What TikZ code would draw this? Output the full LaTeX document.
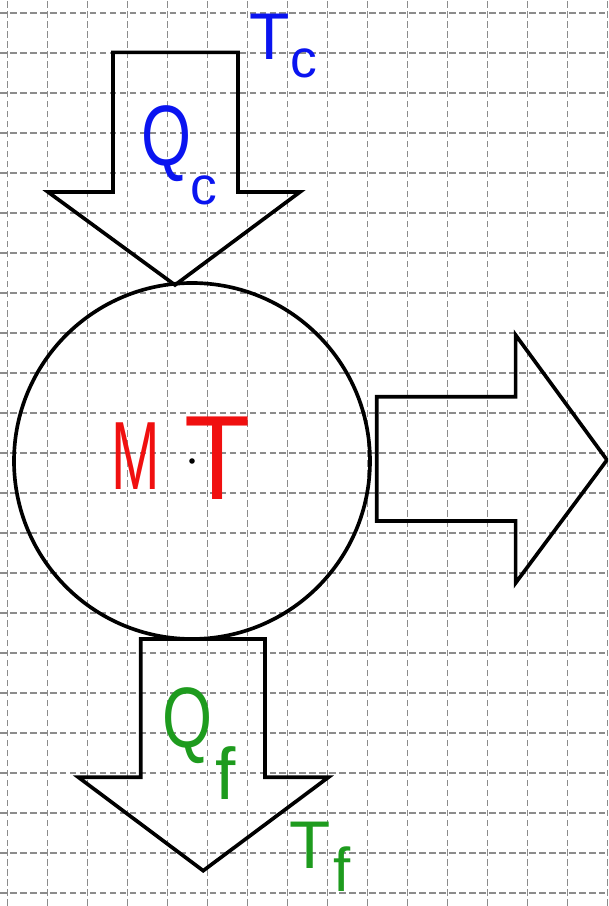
\documentclass[tikz,border=0pt]{standalone}
\usepackage{fontspec}
\setsansfont{Liberation Sans}
\usepackage{graphicx}
\definecolor{cCal}{HTML}{0A14F0}
\definecolor{cFrio}{HTML}{1E9B1E}
\definecolor{cMaq}{HTML}{F01010}
\definecolor{cRej}{HTML}{8C8C8C}
\newcommand{\tam}[1]{\fontsize{#1}{#1}\selectfont}
\tikzset{
    x=1cm, y=1cm, font=\sffamily,
    rejilla/.style={draw=cRej, line width=1.1pt, dash pattern=on 4.7pt off 2.4pt},
    flecha/.style={draw=black, line width=2.6pt, line join=miter},
    maq/.style={circle, draw=black, line width=2.6pt, inner sep=0pt,
                outer sep=0pt, minimum size=8.9cm},
    lbl/.style={inner sep=0pt, anchor=base},
    cal/.style={lbl, text=cCal},
    frio/.style={lbl, text=cFrio},
    roj/.style={lbl, text=cMaq},
}

\begin{document}
\begin{tikzpicture}
    \useasboundingbox (0,0) rectangle (15.2,22.65);
    \clip (0,0) rectangle (15.2,22.65);

    % rejilla
    \foreach \i in {0,...,15}
        \draw[rejilla] (0.1875+\i,0) -- (0.1875+\i,22.65);
    \foreach \j in {0,...,22}
        \draw[rejilla] (0,0.325+\j) -- (15.2,0.325+\j);

    \node[maq] (mt) at (4.8,11.125) {};
    \fill (mt.center) circle (0.07);

    % flecha de entrada (foco caliente)
    \draw[flecha] (2.825,21.34) -- (5.95,21.34) -- (5.95,17.85) -- (7.5,17.85)
        -- (4.375,15.525) -- (1.2,17.85) -- (2.825,17.85) -- cycle;
    % flecha de trabajo
    \draw[flecha] (9.42,12.73) -- (12.89,12.73) -- (12.89,14.275) -- (15.175,11.15)
        -- (12.89,8.075) -- (12.89,9.625) -- (9.42,9.625) -- cycle;
    % flecha de salida (foco frio)
    \draw[flecha] (3.52,6.675) -- (6.625,6.675) -- (6.625,3.2175) -- (8.21,3.2175)
        -- (5.08,0.8825) -- (1.96,3.2175) -- (3.52,3.2175) -- cycle;

    \node[cal] (tcT) at (6.75,21.15) {\tam{47pt}T};
    \node[cal] (tcS) at (7.6,20.7) {\tam{38pt}c};
    \node[cal] (qcQ) at (4.175,18.5) {\tam{61pt}\scalebox{0.75}[1]{Q}};
    \node[cal] (qcS) at (5.1,17.525) {\tam{38pt}c};

    \node[roj] (mM) at (3.4,10.4) {\tam{69pt}\scalebox{0.6}[1]{M}};
    \node[roj] (mT) at (5.45,10.15) {\tam{70pt}\scalebox{1.1}[1.22]{T}};

    \node[frio] (qfQ) at (4.69,3.95) {\tam{61pt}\scalebox{0.75}[1]{Q}};
    \node[frio] (qfS) at (5.65,2.65) {\tam{52pt}f};
    \node[frio] (tfT) at (7.75,0.95) {\tam{48pt}T};
    \node[frio] (tfS) at (8.55,0.35) {\tam{44pt}f};
\end{tikzpicture}
\end{document}
